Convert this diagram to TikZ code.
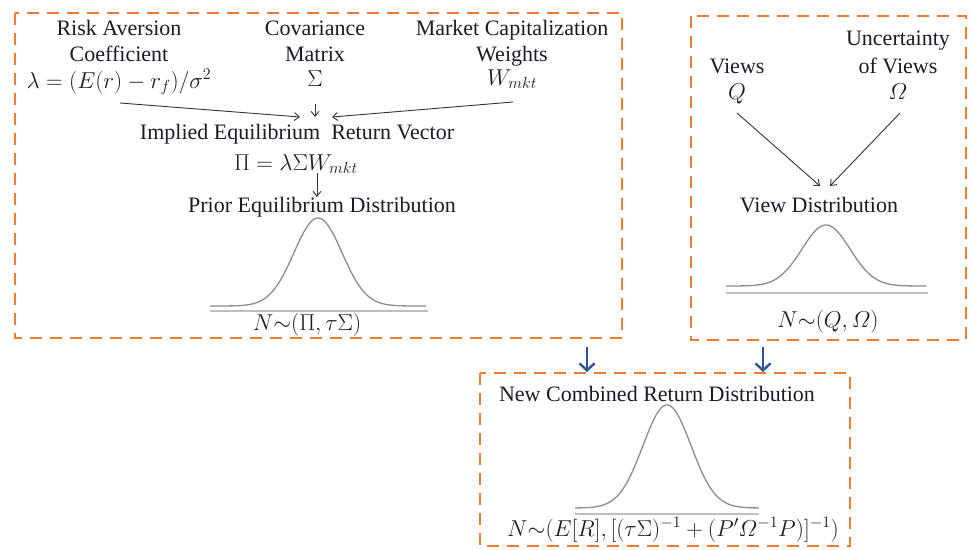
\RequirePackage{fix-cm}
\documentclass[tikz,border=0pt]{standalone}
\usepackage{amsmath}
\usepackage{fontspec}
\setmainfont{Liberation Serif}
\usetikzlibrary{arrows.meta}
\definecolor{dashorange}{HTML}{ED7D31}
\definecolor{arrowblue}{HTML}{2F5597}
\definecolor{curvegray}{HTML}{8C8C8C}
\definecolor{axisgray}{HTML}{BFBFBF}
\definecolor{textdark}{HTML}{1A1A2A}
\begin{document}
\begin{tikzpicture}[x=1pt,y=-1pt,
  lbl/.style={inner sep=0pt, anchor=base, font=\fontsize{22}{26}\selectfont, text=textdark},
  mlbl/.style={inner sep=0pt, anchor=base, font=\fontsize{23}{26}\selectfont, text=textdark},
  groupbox/.style={draw=dashorange, line width=2.7pt, dash pattern=on 12pt off 8pt},
  thinarrow/.style={draw=black!80, line width=0.9pt, -{Straight Barb[length=5pt,width=8pt]}},
  bluearrow/.style={draw=arrowblue, line width=2.4pt, -{Straight Barb[length=7pt,width=15pt]}},
  bell/.style={draw=curvegray, line width=1.3pt},
  axisline/.style={draw=axisgray, line width=1.6pt}
]
\useasboundingbox (0,0) rectangle (971,549);

% group boxes
\draw[groupbox] (15,13) rectangle (622,338);
\draw[groupbox] (691,16) rectangle (966,340);
\draw[groupbox] (480,373) rectangle (850,546);

% box 1 inputs
\node[lbl] (risk1) at (119,35) {Risk Aversion};
\node[lbl] (risk2) at (119,61) {Coefficient};
\node[mlbl] (lam) at (119,88) {$\lambda=(E(r)-r_f)/\sigma^2$};
\node[lbl] (cov1) at (315,35) {Covariance};
\node[lbl] (cov2) at (315,61) {Matrix};
\node[mlbl] (sig) at (315,86) {$\Sigma$};
\node[lbl] (mkt1) at (512,35) {Market Capitalization};
\node[lbl] (mkt2) at (512,61) {Weights};
\node[mlbl] (wm) at (512,85) {$W_{mkt}$};

\node[lbl] (iev) at (297,139) {Implied Equilibrium\ \ Return Vector};
\node[mlbl] (pi) at (296,170) {$\Pi=\lambda\Sigma W_{mkt}$};
\node[lbl] (prior) at (322,212) {Prior Equilibrium Distribution};

\coordinate (lamS) at (120,103);
\coordinate (lamE) at (300,117);
\coordinate (sigS) at (315,104);
\coordinate (sigE) at (315,117);
\coordinate (wmS) at (513,102);
\coordinate (wmE) at (332,117);
\coordinate (piS) at (317,173);
\coordinate (piE) at (317,197);
\draw[thinarrow] (lamS) -- (lamE);
\draw[thinarrow] (sigS) -- (sigE);
\draw[thinarrow] (wmS) -- (wmE);
\draw[thinarrow] (piS) -- (piE);

\draw[bell] plot[domain=-108:108,samples=120,smooth] ({318+\x},{306-88*exp(-(\x)*(\x)/1152)});
\draw[axisline] (210,311) -- (428,311);
\node[mlbl] (priorN) at (307,330) {$N{\sim}(\Pi,\tau\Sigma)$};

% box 2
\node[lbl] (views) at (737,73) {Views};
\node[mlbl] (q) at (737,99) {$Q$};
\node[lbl] (unc1) at (898,45) {Uncertainty};
\node[lbl] (unc2) at (898,73) {of Views};
\node[mlbl] (om) at (898,99) {$\varOmega$};
\node[lbl] (viewd) at (819,212) {View Distribution};
\coordinate (qS) at (737,113);
\coordinate (qE) at (820,186);
\coordinate (omS) at (900,113);
\coordinate (omE) at (830,186);
\draw[thinarrow] (qS) -- (qE);
\draw[thinarrow] (omS) -- (omE);
\draw[bell] plot[domain=-100:100,samples=120,smooth] ({826+\x},{286-61*exp(-(\x)*(\x)/1152)});
\draw[axisline] (726,293) -- (928,293);
\node[mlbl] (viewN) at (828,327) {$N{\sim}(Q,\varOmega)$};

% blue arrows
\coordinate (b1S) at (587,347);
\coordinate (b1E) at (587,372);
\coordinate (b2S) at (763,347);
\coordinate (b2E) at (763,372);
\draw[bluearrow] (b1S) -- (b1E);
\draw[bluearrow] (b2S) -- (b2E);

% box 3
\node[lbl] (newc) at (657,401) {New Combined Return Distribution};
\draw[bell] plot[domain=-92:92,samples=120,smooth] ({667+\x},{508-103*exp(-(\x)*(\x)/1152)});
\draw[axisline] (575,514) -- (759,514);
\node[mlbl] (newN) at (673,536) {$N{\sim}(E[R],[(\tau\Sigma)^{-1}+(P'\varOmega^{-1}P)]^{-1})$};
\end{tikzpicture}
\end{document}
